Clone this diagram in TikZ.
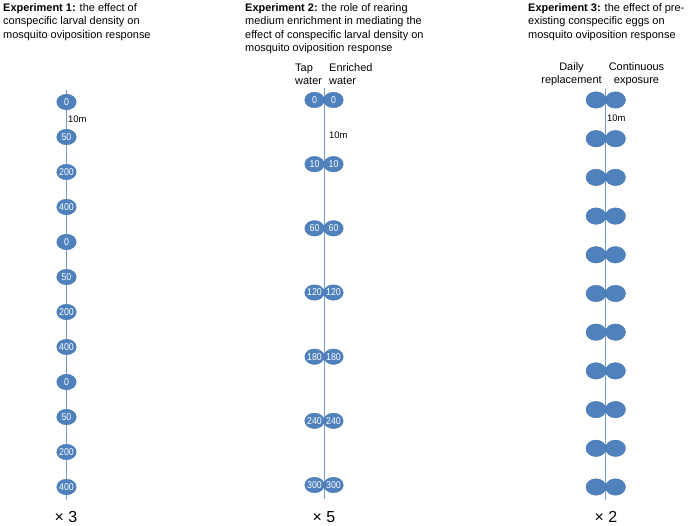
\documentclass[tikz,border=0pt]{standalone}
\usepackage{fontspec}
\setmainfont{Liberation Sans}
\newfontfamily\potfont[FakeStretch=0.88]{Liberation Sans}
\usetikzlibrary{shapes.geometric}
\definecolor{pfill}{HTML}{4F81BD}
\definecolor{pedge}{HTML}{4575AE}
\definecolor{pline}{HTML}{7399CF}
\newcommand{\potlabel}[1]{\makebox[0pt]{#1}}
\begin{document}
\begin{tikzpicture}[x=1bp,y=-1bp,
  pot/.style={ellipse,fill=pfill,draw=pedge,line width=0.4bp,inner sep=0pt,
    minimum width=19.5bp,minimum height=15.5bp,text=white,font=\potfont\fontsize{10}{10}\selectfont},
  bigpot/.style={pot,minimum width=20bp,minimum height=16.5bp},
  axis/.style={draw=pline,line width=0.9bp},
  title/.style={anchor=north west,inner sep=0pt,align=left,font=\fontsize{11}{13.5}\selectfont},
  head/.style={inner sep=0pt,font=\fontsize{11}{13}\selectfont},
  dist/.style={anchor=west,inner sep=0pt,font=\fontsize{9.5}{10}\selectfont},
  rep/.style={inner sep=0pt,font=\fontsize{16}{18}\selectfont}]
\useasboundingbox (0,0) rectangle (689,526);

% titles
\node[title] (t1) at (3,3) {\textbf{Experiment 1:} the effect of\\conspecific larval density on\\mosquito oviposition response};
\node[title] (t2) at (245,3) {\textbf{Experiment 2:} the role of rearing\\medium enrichment in mediating the\\effect of conspecific larval density on\\mosquito oviposition response};
\node[title] (t3) at (528,3) {\textbf{Experiment 3:} the effect of pre-\\existing conspecific eggs on\\mosquito oviposition response};

% Experiment 1
\coordinate (a1top) at (66,90);
\coordinate (a1bot) at (66,500);
\draw[axis] (a1top) -- (a1bot);
\foreach \v [count=\i from 0] in {0,50,200,400,0,50,200,400,0,50,200,400}{
  \node[pot] (p1-\i) at (66.5,{102+35*\i}) {\potlabel{\v}};
}
\node[dist] (d1) at (68,119) {10m};
\node[rep] (r1) at (66,517) {× 3};

% Experiment 2
\node[head,anchor=west,align=left] (h2a) at (295,74.5) {Tap\\water};
\node[head,anchor=west,align=left] (h2b) at (329,74.5) {Enriched\\water};
\coordinate (a2top) at (324,88);
\coordinate (a2bot) at (324,499);
\draw[axis] (a2top) -- (a2bot);
\foreach \v [count=\i from 0] in {0,10,60,120,180,240,300}{
  \node[pot] (l2-\i) at (314.5,{100+64.17*\i}) {\potlabel{\v}};
  \node[pot] (r2-\i) at (333.5,{100+64.17*\i}) {\potlabel{\v}};
}
\node[dist] (d2) at (329,135) {10m};
\node[rep] (r2) at (324,517) {× 5};

% Experiment 3
\node[head,align=center] (h3a) at (571.5,74.5) {Daily\\replacement};
\node[head,align=center] (h3b) at (636.5,74.5) {Continuous\\exposure};
\coordinate (a3top) at (605.5,89);
\coordinate (a3bot) at (605.5,500);
\draw[axis] (a3top) -- (a3bot);
\foreach \i in {0,...,10}{
  \node[bigpot] (l3-\i) at (596,{100+38.7*\i}) {};
  \node[bigpot] (r3-\i) at (615.5,{100+38.7*\i}) {};
}
\node[dist] (d3) at (607,118) {10m};
\node[rep] (r3) at (606,517) {× 2};
\end{tikzpicture}
\end{document}
